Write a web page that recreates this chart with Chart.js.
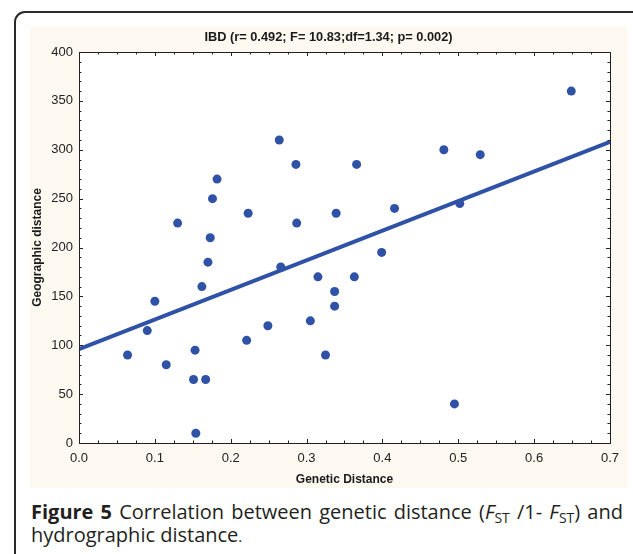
<!DOCTYPE html>
<html>
<head>
<meta charset="utf-8">
<script src="https://cdn.jsdelivr.net/npm/chart.js@4.4.1/dist/chart.umd.min.js"></script>
<style>
  html, body { margin: 0; padding: 0; background: #ffffff; width: 633px; height: 554px; overflow: hidden; }
  #frame { position: absolute; left: 14px; top: 11px; width: 640px; height: 600px;
           border-left: 2px solid #2a2a2a; border-top: 2px solid #2a2a2a; border-right: 2px solid #2a2a2a;
           border-radius: 11px 11px 0 0; box-sizing: border-box; }
  #panel { position: absolute; left: 30px; top: 27px; width: 597px; height: 461px; background: #fdf9f0; }
  #panel canvas { display: block; }
  #caption { position: absolute; left: 31px; top: 500px; width: 592px; font-family: "Open Sans", "Noto Sans", sans-serif;
             font-size: 20px; line-height: 23px; color: #231f20; text-align: justify; text-align-last: left; }
  #caption b { font-weight: 700; }
  #caption sub { font-size: 14px; vertical-align: -4px; line-height: 0; font-style: normal; }
  #caption .dot { font-size: 15px; }
</style>
</head>
<body>
<div id="frame"></div>
<div id="panel"><canvas id="c" width="597" height="461"></canvas></div>
<div id="caption"><b>Figure 5</b> Correlation between genetic distance (<i>F</i><sub>ST</sub> /1- <i>F</i><sub>ST</sub>) and hydrographic distance<span class="dot">.</span></div>
<script>
// ---- data ----
const chartTitle = "IBD (r= 0.492; F= 10.83;df=1.34; p= 0.002)";
const xAxisTitle = "Genetic Distance";
const yAxisTitle = "Geographic distance";
const geneticDistance = [0.064, 0.090, 0.100, 0.115, 0.130, 0.151, 0.153, 0.154, 0.162, 0.167, 0.170, 0.173,
                         0.176, 0.182, 0.221, 0.223, 0.249, 0.264, 0.266, 0.286, 0.287, 0.305, 0.315, 0.325,
                         0.337, 0.337, 0.339, 0.363, 0.366, 0.399, 0.416, 0.481, 0.495, 0.502, 0.529, 0.649];
const geographicDistance = [90, 115, 145, 80, 225, 65, 95, 10, 160, 65, 185, 210,
                            250, 270, 105, 235, 120, 310, 180, 285, 225, 125, 170, 90,
                            155, 140, 235, 170, 285, 195, 240, 300, 40, 245, 295, 360];
const fitLineX = [0, 0.7];
const fitLineY = [96, 308];
const xRange = [0, 0.7];
const yRange = [0, 400];
const xMajorStep = 0.1, xMinorStep = 0.025;
const yMajorStep = 50, yMinorStep = 10;

const blue = '#2f52a6';
const ink = '#222222';
const sansFamily = '"Liberation Sans", Arial, sans-serif';

const points = geneticDistance.map((x, i) => ({x: x, y: geographicDistance[i]}));
const fit = fitLineX.map((x, i) => ({x: x, y: fitLineY[i]}));

const frameTicks = {
  id: 'frameTicks',
  afterDatasetsDraw(chart) {
    const {ctx, chartArea: a, scales: {x, y}} = chart;
    ctx.save();
    ctx.strokeStyle = ink;
    ctx.lineWidth = 1;
    ctx.beginPath();
    const nx = Math.round((xRange[1] - xRange[0]) / xMinorStep);
    for (let i = 0; i <= nx; i++) {
      const v = xRange[0] + i * xMinorStep;
      const major = i % Math.round(xMajorStep / xMinorStep) === 0;
      const len = major ? 4 : 2.5;
      const px = Math.round(x.getPixelForValue(v)) + 0.5;
      ctx.moveTo(px, a.bottom); ctx.lineTo(px, a.bottom - len);
      ctx.moveTo(px, a.top); ctx.lineTo(px, a.top + len);
    }
    const ny = Math.round((yRange[1] - yRange[0]) / yMinorStep);
    for (let i = 0; i <= ny; i++) {
      const v = yRange[0] + i * yMinorStep;
      const major = i % Math.round(yMajorStep / yMinorStep) === 0;
      const len = major ? 4 : 2.5;
      const py = Math.round(y.getPixelForValue(v)) + 0.5;
      ctx.moveTo(a.left, py); ctx.lineTo(a.left + len, py);
      ctx.moveTo(a.right, py); ctx.lineTo(a.right - len, py);
    }
    ctx.stroke();
    ctx.strokeRect(Math.round(a.left) + 0.5, Math.round(a.top) + 0.5, Math.round(a.right - a.left), Math.round(a.bottom - a.top));
    ctx.restore();
  }
};

const titlePlugin = {
  id: 'topTitle',
  beforeDraw(chart) {
    const {ctx, chartArea: a} = chart;
    ctx.save();
    ctx.fillStyle = '#ffffff';
    ctx.fillRect(a.left, a.top, a.right - a.left, a.bottom - a.top);
    ctx.font = 'bold 12.8px ' + sansFamily;
    ctx.fillStyle = '#1a1a1a';
    ctx.textAlign = 'center';
    ctx.textBaseline = 'middle';
    ctx.fillText(chartTitle, chart.width / 2, 10);
    ctx.restore();
  }
};

new Chart(document.getElementById('c'), {
  type: 'scatter',
  data: {
    datasets: [
      { type: 'scatter', data: points, backgroundColor: blue, borderColor: blue, pointRadius: 4.5,
        pointHoverRadius: 4.5, borderWidth: 0, order: 1 },
      { type: 'line', data: fit, borderColor: blue, borderWidth: 4, pointRadius: 0, fill: false,
        showLine: true, order: 2 }
    ]
  },
  options: {
    responsive: false,
    animation: false,
    events: [],
    layout: { padding: { top: 25, right: 12, left: 0, bottom: 0 } },
    plugins: { legend: { display: false }, tooltip: { enabled: false }, title: { display: false } },
    scales: {
      x: {
        type: 'linear', min: xRange[0], max: xRange[1],
        grid: { display: false, drawTicks: false },
        border: { display: false },
        ticks: { stepSize: xMajorStep, padding: 8, color: ink,
                 font: { family: sansFamily, size: 13 },
                 callback: v => Number(v).toFixed(1) },
        title: { display: true, text: xAxisTitle, color: '#1a1a1a', padding: { top: 0, bottom: 1 },
                 font: { family: sansFamily, size: 12, weight: 'bold' } },
        afterFit(s) { s.height = 45; }
      },
      y: {
        type: 'linear', min: yRange[0], max: yRange[1],
        grid: { display: false, drawTicks: false },
        border: { display: false },
        ticks: { stepSize: yMajorStep, padding: 6, color: ink,
                 font: { family: sansFamily, size: 13 } },
        title: { display: true, text: yAxisTitle, color: '#1a1a1a', padding: { top: 0, bottom: 0 },
                 font: { family: sansFamily, size: 12, weight: 'bold' } },
        afterFit(s) { s.width = 49; }
      }
    }
  },
  plugins: [titlePlugin, frameTicks]
});
</script>
</body>
</html>
